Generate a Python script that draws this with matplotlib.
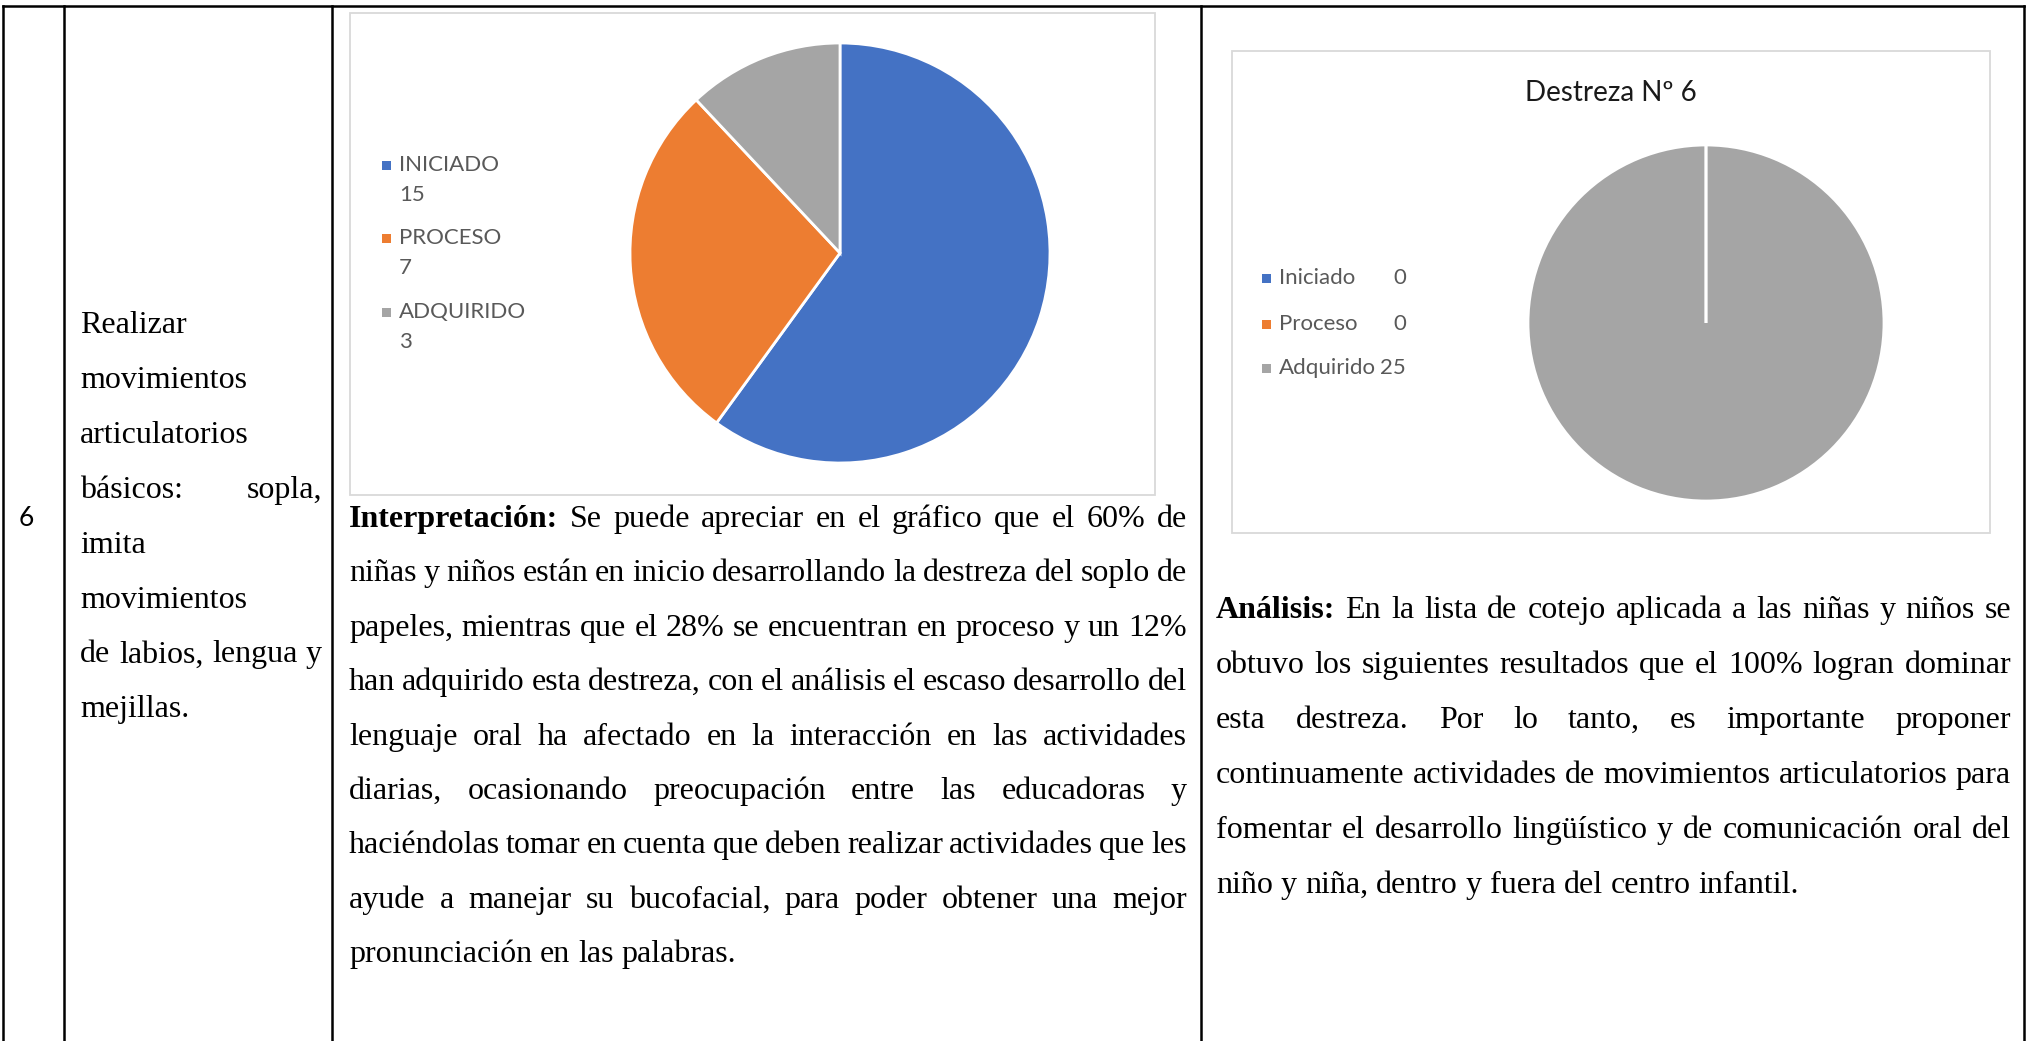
import matplotlib
matplotlib.use("Agg")
import matplotlib.pyplot as plt
from matplotlib.patches import Rectangle

# ---- data ----------------------------------------------------------------
row_number = "6"
skill_lines = ["Realizar", "movimientos", "articulatorios", "básicos: sopla,",
               "imita", "movimientos", "de labios, lengua y", "mejillas."]

levels_upper = ["INICIADO", "PROCESO", "ADQUIRIDO"]
counts_initial = [15, 7, 3]

levels_title = ["Iniciado", "Proceso", "Adquirido"]
counts_final = [0, 0, 25]
final_title = "Destreza Nº 6"

level_colors = ["#4472C4", "#ED7D31", "#A5A5A5"]

interp_head = "Interpretación:"
interp_lines = [
    "Se puede apreciar en el gráfico que el 60% de",
    "niñas y niños están en inicio desarrollando la destreza del soplo de",
    "papeles, mientras que el 28% se encuentran en proceso y un 12%",
    "han adquirido esta destreza, con el análisis el escaso desarrollo del",
    "lenguaje oral ha afectado en la interacción en las actividades",
    "diarias, ocasionando preocupación entre las educadoras y",
    "haciéndolas tomar en cuenta que deben realizar actividades que les",
    "ayude a manejar su bucofacial, para poder obtener una mejor",
    "pronunciación en las palabras.",
]

analysis_head = "Análisis:"
analysis_lines = [
    "En la lista de cotejo aplicada a las niñas y niños se",
    "obtuvo los siguientes resultados que el 100% logran dominar",
    "esta destreza. Por lo tanto, es importante proponer",
    "continuamente actividades de movimientos articulatorios para",
    "fomentar el desarrollo lingüístico y de comunicación oral del",
    "niño y niña, dentro y fuera del centro infantil.",
]

# ---- figure in pixel units -----------------------------------------------
W, H = 2027, 1041
fig = plt.figure(figsize=(W / 100, H / 100), dpi=100)
fig.patch.set_facecolor("white")
page = fig.add_axes([0, 0, 1, 1])
page.set_xlim(0, W)
page.set_ylim(H, 0)
page.axis("off")

SERIF = "Liberation Serif"
SANS = "Lato"
BODY = 23
LEG_GRAY = "#595959"

renderer = fig.canvas.get_renderer()


def text_width(s, weight="normal"):
    t = page.text(0, 0, s, fontsize=BODY, family=SERIF, weight=weight)
    w = t.get_window_extent(renderer).width
    t.remove()
    return w


def draw_line(tokens, x0, x1, y, justify):
    """tokens: list of (word, weight). Justified lines spread words to x1."""
    if not justify or len(tokens) == 1:
        x = x0
        space = text_width("a a") - text_width("aa")
        for word, weight in tokens:
            page.text(x, y, word, fontsize=BODY, family=SERIF, weight=weight,
                      va="baseline", ha="left", color="black")
            x += text_width(word, weight) + space
        return
    widths = [text_width(w, wt) for w, wt in tokens]
    gap = (x1 - x0 - sum(widths)) / (len(tokens) - 1)
    x = x0
    for (word, weight), w in zip(tokens, widths):
        page.text(x, y, word, fontsize=BODY, family=SERIF, weight=weight,
                  va="baseline", ha="left", color="black")
        x += w + gap


def draw_paragraph(lines, x0, x1, y0, step, head=None, justify_flags=None):
    for i, line in enumerate(lines):
        tokens = [(w, "normal") for w in line.split()]
        if i == 0 and head is not None:
            tokens = [(head, "bold")] + tokens
        just = (i < len(lines) - 1) if justify_flags is None else justify_flags[i]
        draw_line(tokens, x0, x1, y0 + i * step, just)


# ---- table grid ----------------------------------------------------------
grid_kw = dict(color="black", linewidth=1.8, capstyle="projecting")
page.hlines(5.5, 3, 2024, **grid_kw)
page.vlines([3, 64, 332, 1201, 2024], 5.5, H, **grid_kw)

# first two columns
page.text(26, 518, row_number, fontsize=19, family=SANS, ha="center",
          va="center", color="black")
skill_just = [False, False, False, True, False, False, True, False]
draw_paragraph(skill_lines, 80, 322, 333, 54.9, justify_flags=skill_just)

# ---- chart frames --------------------------------------------------------
frame_kw = dict(fill=False, edgecolor="#D9D9D9", linewidth=1.3)
page.add_patch(Rectangle((350, 13), 805, 482, **frame_kw))
page.add_patch(Rectangle((1232, 51), 758, 482, **frame_kw))


def pie_axes(cx, cy, r):
    return fig.add_axes([(cx - r) / W, 1 - (cy + r) / H, 2 * r / W, 2 * r / H])


# initial evaluation pie
ax1 = pie_axes(840, 253, 210)
ax1.pie(counts_initial, colors=level_colors, startangle=90, counterclock=False,
        wedgeprops=dict(edgecolor="white", linewidth=2.0))
ax1.set_xlim(-1.0, 1.0)
ax1.set_ylim(-1.0, 1.0)
ax1.set_aspect("equal")
ax1.axis("off")

# legend for initial pie (category above its count)
leg1_y = [165, 238, 312]
for name, n, col, y in zip(levels_upper, counts_initial, level_colors, leg1_y):
    page.add_patch(Rectangle((382, y - 4.5), 9, 9, facecolor=col, edgecolor="none"))
    page.text(399, y, name, fontsize=16, family=SANS, color=LEG_GRAY,
              va="center", ha="left")
    page.text(399, y + 30, str(n), fontsize=16, family=SANS, color=LEG_GRAY,
              va="center", ha="left")

# final evaluation pie
ax2 = pie_axes(1706, 323, 178)
wedges, _ = ax2.pie(counts_final, colors=level_colors, startangle=90,
                    counterclock=False,
                    wedgeprops=dict(edgecolor="white", linewidth=2.0))
for wdg, n in zip(wedges, counts_final):
    if n == 0:
        wdg.set_zorder(5)
ax2.set_xlim(-1.0, 1.0)
ax2.set_ylim(-1.0, 1.0)
ax2.set_aspect("equal")
ax2.axis("off")

page.text(1611, 93, final_title, fontsize=20, family=SANS, color="#1a1a1a",
          ha="center", va="center")

leg2_y = [278, 324, 368]
for name, n, col, y in zip(levels_title, counts_final, level_colors, leg2_y):
    page.add_patch(Rectangle((1262, y - 4.5), 9, 9, facecolor=col, edgecolor="none"))
    page.text(1279, y, name, fontsize=16, family=SANS, color=LEG_GRAY,
              va="center", ha="left")
    page.text(1406, y, str(n), fontsize=16, family=SANS, color=LEG_GRAY,
              va="center", ha="right")

# ---- paragraphs ----------------------------------------------------------
draw_paragraph(interp_lines, 349, 1187, 527, 54.4, head=interp_head)
draw_paragraph(analysis_lines, 1216, 2011, 618, 55.0, head=analysis_head)

fig.savefig("out.png", dpi=100, facecolor="white")
